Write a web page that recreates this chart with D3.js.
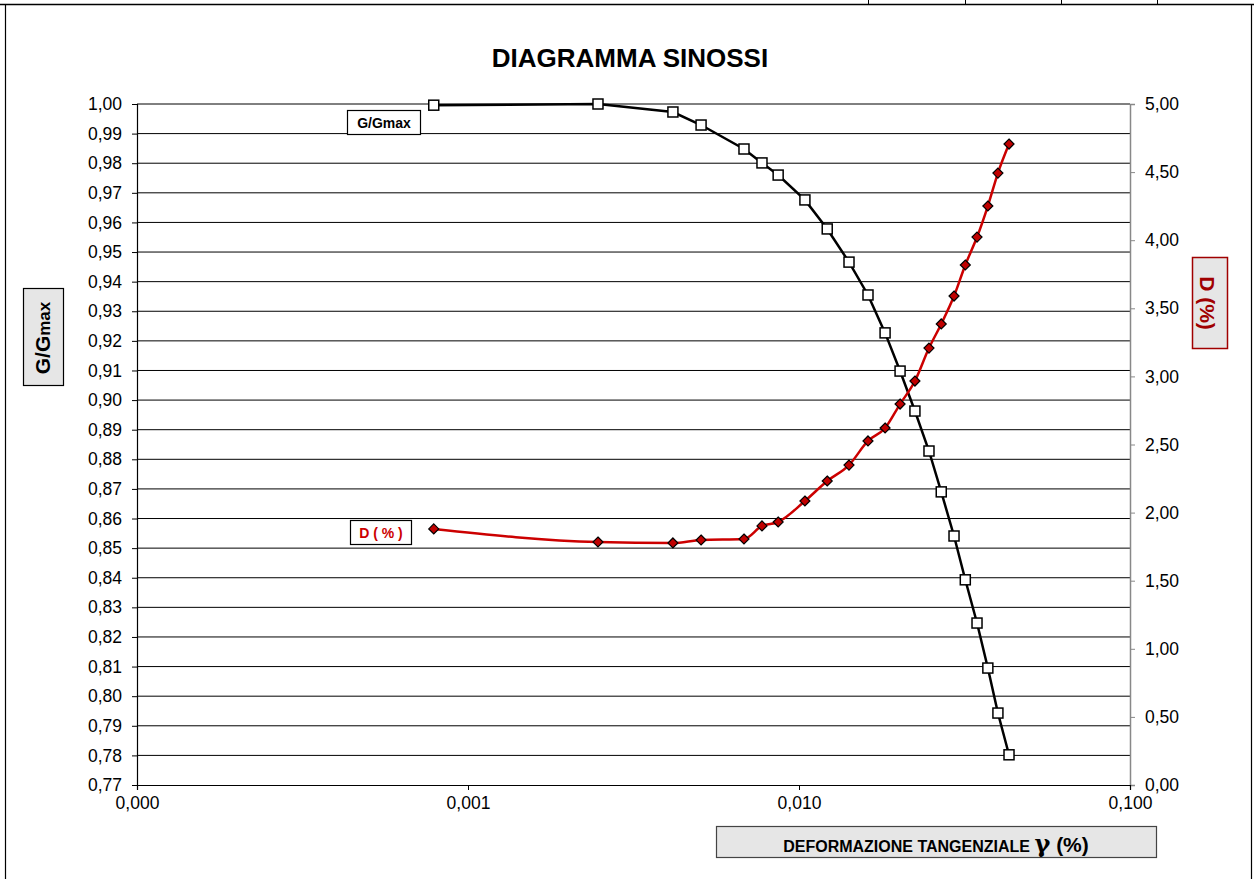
<!DOCTYPE html>
<html>
<head>
<meta charset="utf-8">
<script src="https://cdn.jsdelivr.net/npm/d3@7"></script>
<style>
  html, body { margin: 0; padding: 0; background: #fff; }
  svg { display: block; font-family: "Liberation Sans", Arial, sans-serif; }
  .tick text { font-size: 17.5px; font-family: "Liberation Sans", Arial, sans-serif; fill: #000; }
</style>
</head>
<body>
<svg id="chart" width="1254" height="879"></svg>
<script>
// Shear strain gamma (%) for each test step
const strain = [0.000788, 0.00247, 0.00416, 0.00506, 0.00682, 0.00773, 0.00865, 0.01042,
  0.01217, 0.01416, 0.01616, 0.0182, 0.0202, 0.0224, 0.0247, 0.0269, 0.0294, 0.0318,
  0.0345, 0.0372, 0.0399, 0.0431];
// Normalised shear modulus G/Gmax
const gRatio = [0.9996, 1.0000, 0.9973, 0.9929, 0.9848, 0.9801, 0.9760, 0.9676,
  0.9578, 0.9466, 0.9355, 0.9227, 0.9098, 0.8963, 0.8828, 0.8690, 0.8541, 0.8393,
  0.8247, 0.8095, 0.7943, 0.7802];
// Damping ratio D (%)
const damping = [1.880, 1.784, 1.777, 1.799, 1.806, 1.902, 1.931, 2.085,
  2.232, 2.349, 2.526, 2.621, 2.797, 2.966, 3.208, 3.385, 3.590, 3.818,
  4.023, 4.251, 4.493, 4.706];

const xTicks = [0.0001, 0.001, 0.01, 0.1];
const xTickLabels = ["0,000", "0,001", "0,010", "0,100"];
const leftTicks = d3.range(77, 101).map(v => v / 100);
const rightTicks = d3.range(0, 11).map(v => v / 2);

const svg = d3.select("#chart");
const m = { left: 137, right: 1130, top: 104, bottom: 785 };

const x = d3.scaleLog().domain([0.0001, 0.1]).range([m.left, m.right]);
const yL = d3.scaleLinear().domain([0.77, 1.0]).range([m.bottom, m.top]);
const yR = d3.scaleLinear().domain([0, 5]).range([m.bottom, m.top]);
const comma = (v, n) => v.toFixed(n).replace(".", ",");

// Page frame and header table rules
svg.append("line").attr("x1", 0).attr("x2", 1254).attr("y1", 4.5).attr("y2", 4.5)
  .attr("stroke", "#000").attr("stroke-width", 1.5);
svg.append("line").attr("x1", 5.5).attr("x2", 5.5).attr("y1", 4).attr("y2", 879)
  .attr("stroke", "#000").attr("stroke-width", 1.2);
svg.append("line").attr("x1", 1251.5).attr("x2", 1251.5).attr("y1", 4).attr("y2", 879)
  .attr("stroke", "#000").attr("stroke-width", 1.2);
[868, 965, 1061, 1157].forEach(px => {
  svg.append("line").attr("x1", px + 0.5).attr("x2", px + 0.5).attr("y1", 0).attr("y2", 4)
    .attr("stroke", "#000").attr("stroke-width", 1);
});

// Title
svg.append("text").attr("x", 630).attr("y", 67).attr("text-anchor", "middle")
  .attr("font-size", 26).attr("font-weight", "bold").text("DIAGRAMMA SINOSSI");

// Horizontal gridlines
svg.append("g").selectAll("line").data(leftTicks.slice(1)).join("line")
  .attr("x1", m.left).attr("x2", m.right)
  .attr("y1", d => yL(d)).attr("y2", d => yL(d))
  .attr("stroke", "#000").attr("stroke-width", 1);

// Left axis
const gL = svg.append("g").attr("transform", `translate(${m.left},0)`)
  .call(d3.axisLeft(yL).tickValues(leftTicks).tickSize(5).tickPadding(10)
    .tickFormat(d => comma(d, 2)));
gL.select(".domain").attr("stroke", "#000").attr("stroke-width", 1.2);

// Right axis
const gR = svg.append("g").attr("transform", `translate(${m.right},0)`)
  .call(d3.axisRight(yR).tickValues(rightTicks).tickSize(5).tickPadding(10)
    .tickFormat(d => comma(d, 2)));
gR.select(".domain").attr("stroke", "#888").attr("stroke-width", 1.5);
gR.selectAll(".tick line").attr("stroke", "#888");

// Bottom axis (log strain)
const gB = svg.append("g").attr("transform", `translate(0,${m.bottom})`)
  .call(d3.axisBottom(x).tickValues(xTicks).tickSize(5).tickPadding(7)
    .tickFormat((d, i) => xTickLabels[i]));
gB.select(".domain").attr("stroke", "#000").attr("stroke-width", 1.2);

// G/Gmax curve
const pts = strain.map((s, i) => ({ s, g: gRatio[i], d: damping[i] }));
svg.append("path").datum(pts)
  .attr("d", d3.line().x(p => x(p.s)).y(p => yL(p.g)))
  .attr("fill", "none").attr("stroke", "#000").attr("stroke-width", 2.5);

// Damping curve
svg.append("path").datum(pts)
  .attr("d", d3.line().x(p => x(p.s)).y(p => yR(p.d)).curve(d3.curveMonotoneX))
  .attr("fill", "none").attr("stroke", "#cc0000").attr("stroke-width", 2.5);

// Damping markers (diamonds)
svg.append("g").selectAll("path").data(pts).join("path")
  .attr("transform", p => `translate(${x(p.s)},${yR(p.d)})`)
  .attr("d", "M0,-5 L5,0 L0,5 L-5,0 Z")
  .attr("fill", "#c00000").attr("stroke", "#000").attr("stroke-width", 1.2);

// G/Gmax markers (open squares)
svg.append("g").selectAll("rect").data(pts).join("rect")
  .attr("x", p => x(p.s) - 5).attr("y", p => yL(p.g) - 5)
  .attr("width", 10).attr("height", 10)
  .attr("fill", "#fff").attr("stroke", "#000").attr("stroke-width", 1.5);

// Series labels
svg.append("rect").attr("x", 347.5).attr("y", 110.5).attr("width", 73).attr("height", 24)
  .attr("fill", "#fff").attr("stroke", "#000").attr("stroke-width", 1.2);
svg.append("text").attr("x", 384).attr("y", 128).attr("text-anchor", "middle")
  .attr("font-size", 14).attr("font-weight", "bold").text("G/Gmax");

svg.append("rect").attr("x", 350.5).attr("y", 520.5).attr("width", 61).attr("height", 24)
  .attr("fill", "#fff").attr("stroke", "#000").attr("stroke-width", 1.2);
svg.append("text").attr("x", 381).attr("y", 538).attr("text-anchor", "middle")
  .attr("font-size", 14).attr("font-weight", "bold").attr("fill", "#cc0000").text("D ( % )");

// Left axis title
svg.append("rect").attr("x", 23.5).attr("y", 288.5).attr("width", 40).attr("height", 97)
  .attr("fill", "#e6e6e6").attr("stroke", "#000").attr("stroke-width", 1.2);
const tL = svg.append("text").attr("transform", "translate(50,338) rotate(-90)")
  .attr("text-anchor", "middle").attr("font-weight", "bold").attr("font-size", 21);
tL.append("tspan").text("G/G");
tL.append("tspan").attr("font-size", 17).text("max");

// Right axis title
svg.append("rect").attr("x", 1192.5).attr("y", 257.5).attr("width", 35).attr("height", 91)
  .attr("fill", "#e6e6e6").attr("stroke", "#a00000").attr("stroke-width", 1.5);
svg.append("text").attr("transform", "translate(1200,303) rotate(90)")
  .attr("text-anchor", "middle").attr("font-weight", "bold").attr("font-size", 21)
  .attr("fill", "#a00000").text("D (%)");

// Bottom axis title
svg.append("rect").attr("x", 716.5).attr("y", 826.5).attr("width", 440).attr("height", 31)
  .attr("fill", "#e6e6e6").attr("stroke", "#444").attr("stroke-width", 1.2);
const tB = svg.append("text").attr("x", 936).attr("y", 852).attr("text-anchor", "middle")
  .attr("font-weight", "bold").attr("font-size", 16);
tB.append("tspan").text("DEFORMAZIONE TANGENZIALE ");
tB.append("tspan").attr("font-size", 24).attr("font-family", "DejaVu Serif, serif")
  .attr("font-weight", "bold").text("γ");
tB.append("tspan").attr("font-size", 21).text(" (%)");
</script>
</body>
</html>
